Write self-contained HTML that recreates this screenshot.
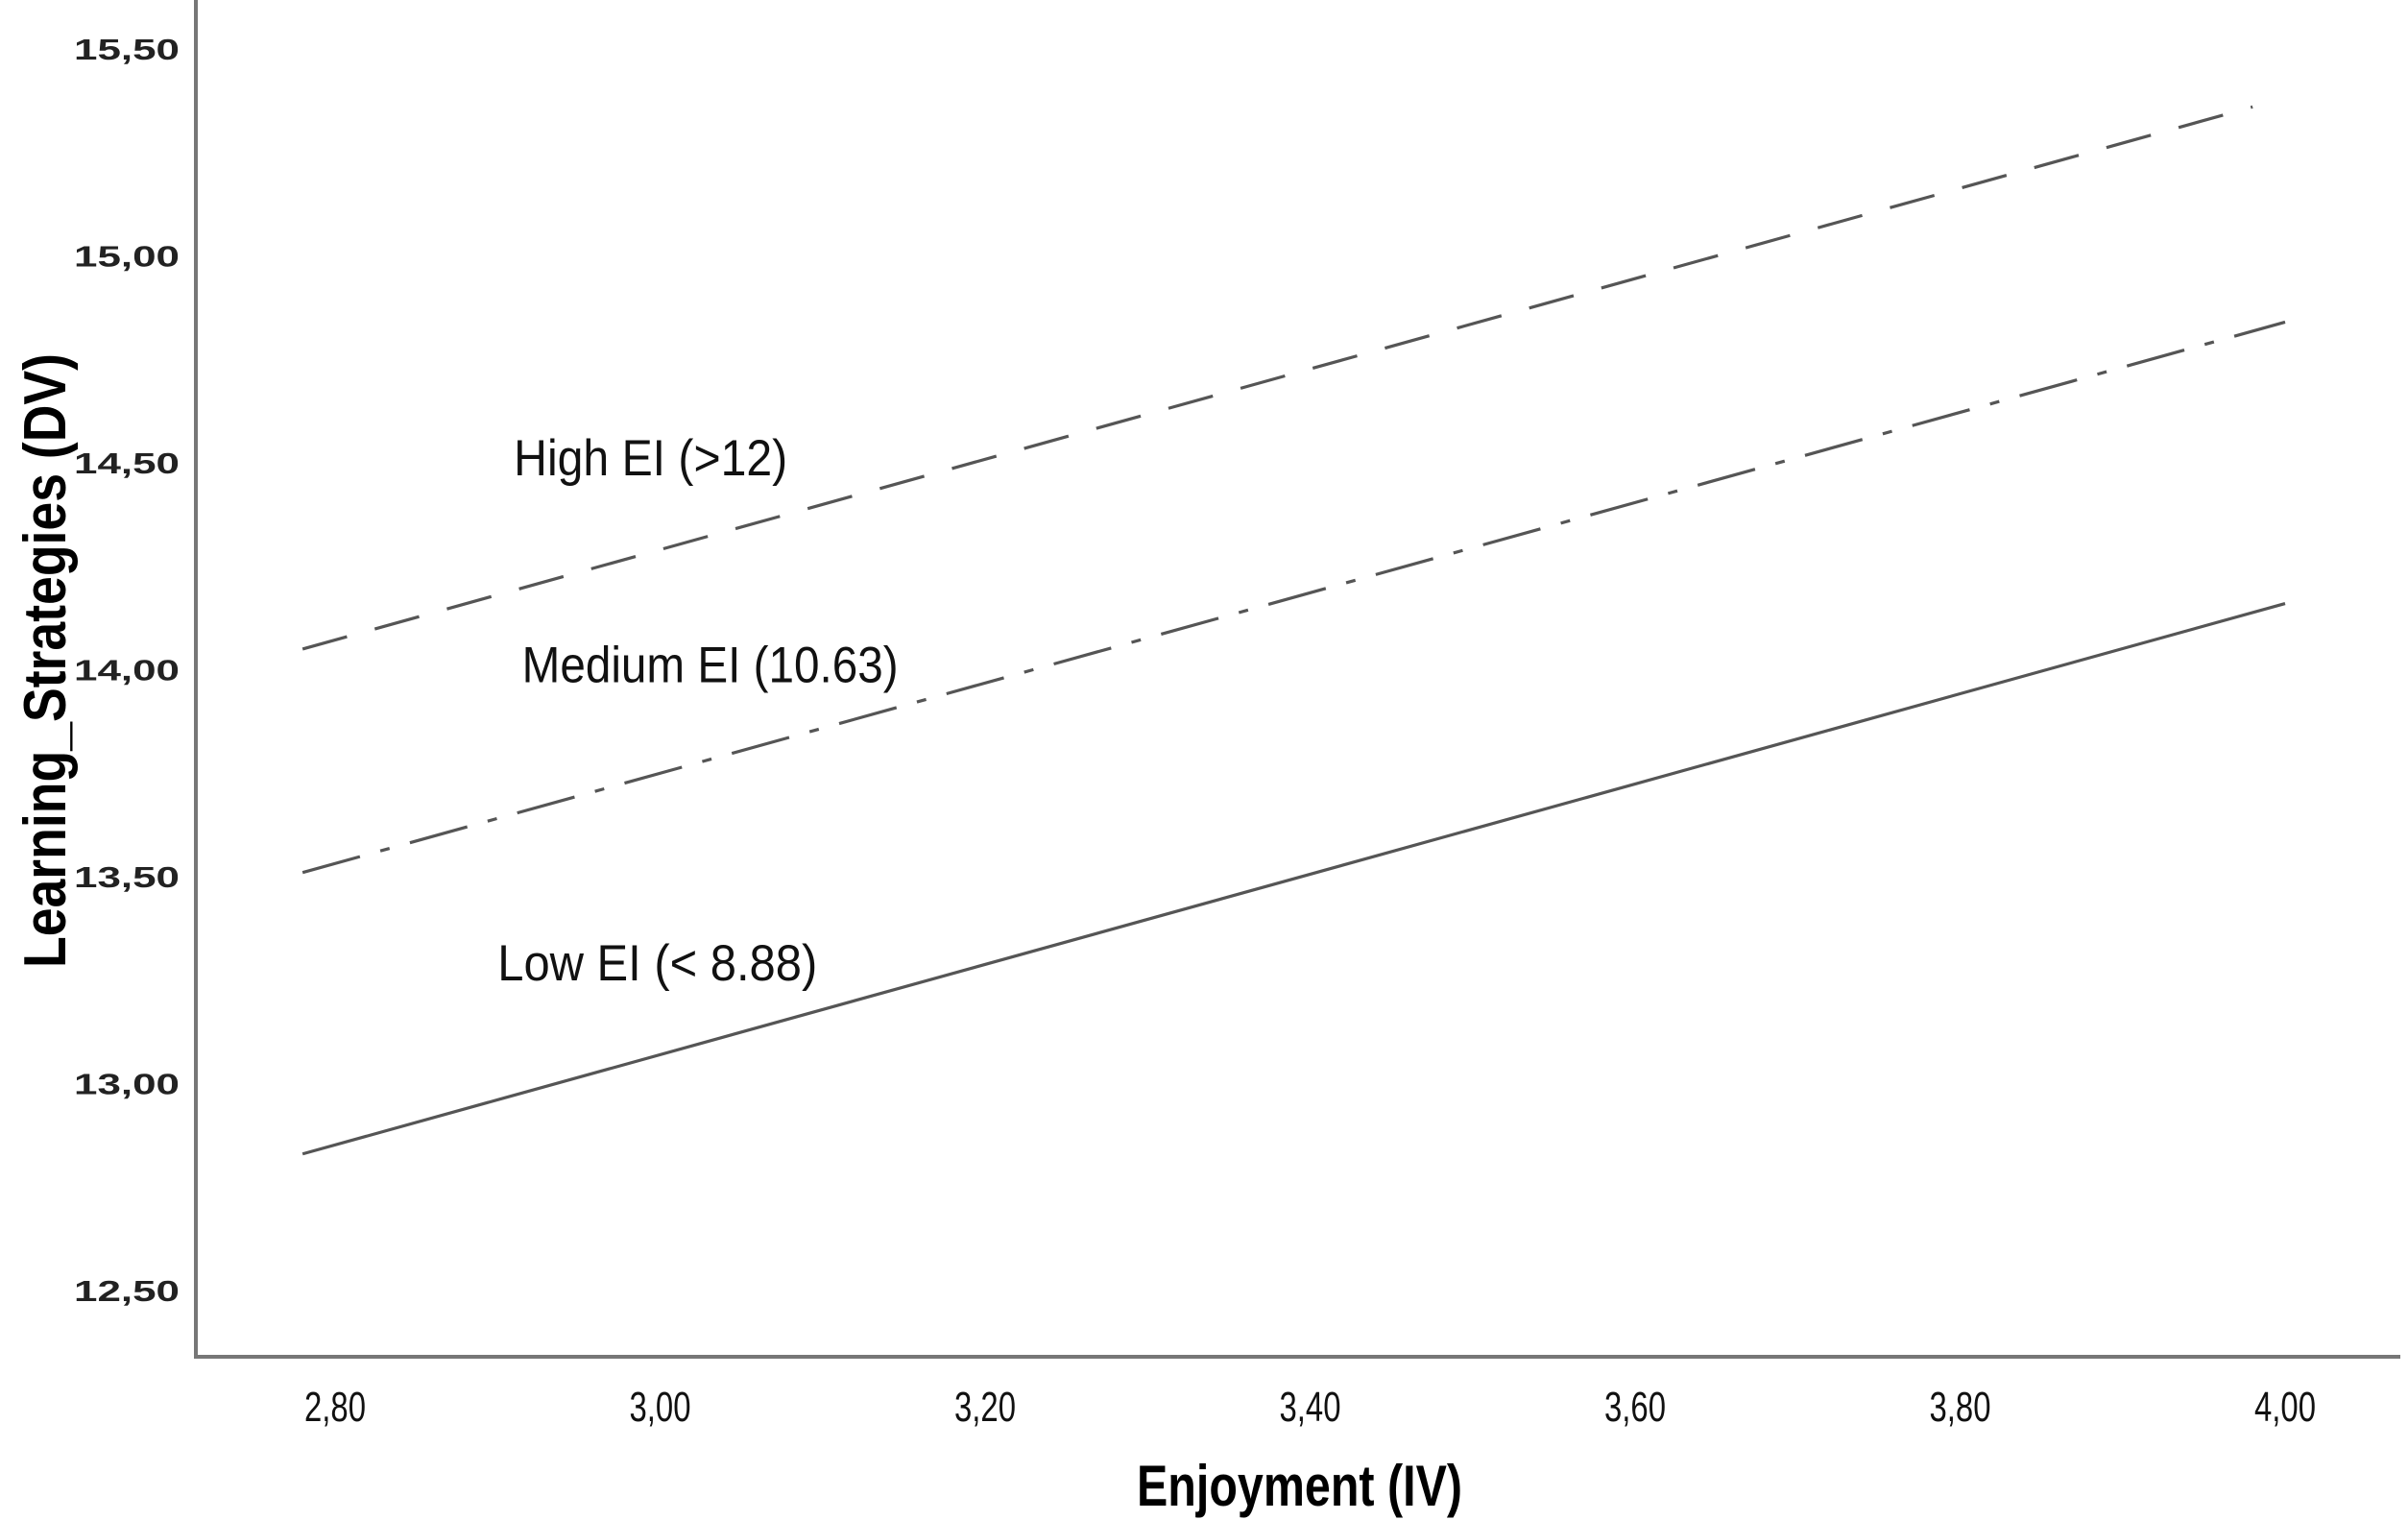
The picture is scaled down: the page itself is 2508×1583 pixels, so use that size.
<!DOCTYPE html>
<html><head><meta charset="utf-8"><style>
html,body{margin:0;padding:0;background:#fff;}
svg{display:block;}
</style></head><body>
<svg id="chart" width="2508" height="1583" viewBox="0 0 2508 1583" xmlns="http://www.w3.org/2000/svg">
<g id="axes"></g><g id="marks"></g>
</svg>
<script>
const xTicks=[2.8,3.0,3.2,3.4,3.6,3.8,4.0];
const xTickLabels=["2,80","3,00","3,20","3,40","3,60","3,80","4,00"];
const yTicks=[12.5,13.0,13.5,14.0,14.5,15.0,15.5];
const yTickLabels=["12,50","13,00","13,50","14,00","14,50","15,00","15,50"];
const seriesNames=["High EI (>12)","Medium EI (10.63)","Low EI (< 8.88)"];
const xStart=[2.78,2.78,2.78];
const xEnd=[3.98,4.0,4.0];
const yStart=[14.05,13.51,12.83];
const yEnd=[15.36,14.84,14.16];
const labelX=[2.91,2.915,2.90];
const labelY=[14.47,13.97,13.25];

const NS="http://www.w3.org/2000/svg";
const sx=v=>349+(v-2.8)*(2380-349)/1.2;
const sy=v=>51+(15.5-v)*(1344-51)/3.0;
const F="Liberation Sans, sans-serif";
function mk(tag,attrs,parent,text){const e=document.createElementNS(NS,tag);for(const k in attrs)e.setAttribute(k,attrs[k]);if(text!==undefined)e.textContent=text;parent.appendChild(e);return e;}
const axes=document.getElementById('axes'),marks=document.getElementById('marks');
let e=mk('line',{x1:204,y1:0,x2:204,y2:1414,stroke:'#777','stroke-width':4},axes);


e=mk('line',{x1:202,y1:1413,x2:2500,y2:1413,stroke:'#777','stroke-width':4},axes);


yTicks.forEach((t,i)=>{
 const el=mk('text',{x:77,y:sy(t)+11,'font-family':F,'font-size':31,'font-weight':'bold',textLength:110,lengthAdjust:'spacingAndGlyphs',fill:'#222'},axes,yTickLabels[i]);
 
 
});
xTicks.forEach((t,i)=>{
 const el=mk('text',{x:sx(t)-32,y:1480,'font-family':F,'font-size':44,textLength:64,lengthAdjust:'spacingAndGlyphs',fill:'#111'},axes,xTickLabels[i]);
 
 
});
e=mk('text',{x:1184,y:1568,'font-family':F,'font-size':60,'font-weight':'bold',textLength:339,lengthAdjust:'spacingAndGlyphs',fill:'#000'},axes,'Enjoyment (IV)');


e=mk('text',{x:-1008,y:0,transform:'translate(68,0) rotate(-90)','font-family':F,'font-size':62,'font-weight':'bold',textLength:640,lengthAdjust:'spacingAndGlyphs',fill:'#000'},axes,'Learning_Strategies (DV)');


const dashes=["48 30","62 22 10 22",""];
const lnames=["high-ei-line","medium-ei-line","low-ei-line"];
const tnames=["high-ei-label","medium-ei-label","low-ei-label"];
const tlens=[285,392,333];
seriesNames.forEach((n,i)=>{
 const l=mk('line',{x1:sx(xStart[i]),y1:sy(yStart[i]),x2:sx(xEnd[i]),y2:sy(yEnd[i]),stroke:'#555','stroke-width':3.2},marks);
 if(dashes[i])l.setAttribute('stroke-dasharray',dashes[i]);
 
 
 const t=mk('text',{x:sx(labelX[i]),y:sy(labelY[i]),'font-family':F,'font-size':53,textLength:tlens[i],lengthAdjust:'spacingAndGlyphs',fill:'#111'},marks,n);
 
 
});
</script>
</body></html>
